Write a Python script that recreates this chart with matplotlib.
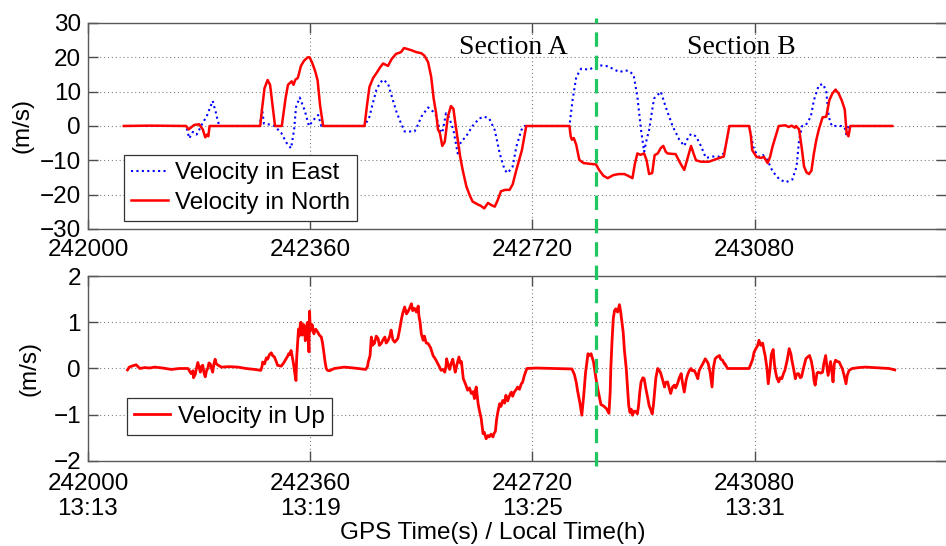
import numpy as np
import matplotlib
matplotlib.use("Agg")
from matplotlib import pyplot as plt
from matplotlib.lines import Line2D
import matplotlib.transforms as mtransforms

plt.rcParams['font.family'] = ['Liberation Sans', 'DejaVu Sans']

# GPS seconds of week, velocities
t_north = [242058, 242100, 242159, 242163, 242172, 242180, 242186, 242190, 242193, 242195, 242197,
           242279, 242282, 242286, 242291, 242295, 242299, 242303, 242314, 242320, 242324, 242330,
           242333, 242336, 242340, 242345, 242350, 242356, 242359, 242363, 242368, 242372, 242376,
           242381, 242448, 242452, 242456, 242462, 242467, 242473, 242478, 242486, 242492, 242499,
           242507, 242512, 242516, 242525, 242532, 242540, 242545, 242551, 242556, 242560, 242564,
           242567, 242570, 242574, 242578, 242583, 242588, 242592, 242595, 242599, 242603, 242607,
           242613, 242618, 242623, 242628, 242632, 242636, 242642, 242648, 242653, 242659, 242664,
           242669, 242676, 242683, 242688, 242694, 242703, 242707, 242710, 242780, 242782, 242784,
           242787, 242791, 242796, 242803, 242812, 242823, 242828, 242835, 242842, 242846, 242851,
           242860, 242869, 242875, 242882, 242886, 242890, 242895, 242901, 242905, 242909, 242914,
           242918, 242923, 242928, 242932, 242936, 242939, 242952, 242960, 242966, 242972, 242977,
           242981, 242985, 242993, 243006, 243015, 243023, 243030, 243035, 243039, 243071, 243074,
           243076, 243083, 243090, 243095, 243101, 243105, 243109, 243114, 243119, 243130, 243135,
           243140, 243145, 243147, 243152, 243156, 243160, 243164, 243168, 243172, 243176, 243180,
           243184, 243190, 243196, 243201, 243206, 243211, 243216, 243221, 243226, 243229, 243232,
           243235, 243303]
v_north = [0, 0.1, 0, -1.0, 0.3, 0.5, -1, -3.3, -2.5, -3, 0,
           0, 5, 11, 13.4, 12, 6, 0, 0, 8, 12, 13,
           12, 13.5, 14, 17.5, 19, 20, 20, 18.5, 16, 13.3, 6,
           0, 0, 6, 11.4, 14, 15.3, 17, 18.2, 17.5, 19.5, 21,
           21.5, 22.7, 22.5, 22, 21.5, 21.2, 20.5, 18.6, 14.3, 8, 3.7,
           -1, -2, -5.8, -4.6, 2.7, 5.8, 5.0, 1, -4, -9, -12.8,
           -17.6, -20, -22, -22.5, -22.9, -23.2, -24, -22.4, -23, -23.5, -21.5,
           -19, -18.6, -18.6, -17, -12.8, -7, -3, 0, 0, -3, -4,
           -3.5, -5.5, -9.9, -10.8, -11, -11.2, -12.8, -14.5, -15.2, -14.8, -14.3,
           -14, -14, -14.5, -15.2, -11, -8, -8.4, -8, -10, -14, -13.7,
           -8.5, -8, -6.4, -5.8, -7.5, -8, -8.2, -11, -12.8, -9, -5.8,
           -8, -10, -10.4, -10.4, -9.8, -9.3, -8.9, -4, 0, 0, -3,
           -7, -9, -9.3, -9, -10.8, -9, -6, -3, 0, 0.2, -0.3,
           0.1, -0.5, 0, -1, -6, -11.8, -13.5, -14, -13, -8, -4,
           -1, 2.5, 2.7, 7.5, 9.5, 10.6, 9.5, 7.5, 4.8, -2, -3,
           0, 0]

t_east = [242058, 242159, 242164, 242170, 242176, 242180, 242183, 242192, 242202, 242207, 242210,
          242213, 242278, 242280, 242282, 242285, 242292, 242302, 242313, 242322, 242329, 242334,
          242337, 242343, 242351, 242358, 242365, 242373, 242378, 242448, 242456, 242462, 242467,
          242473, 242478, 242486, 242494, 242500, 242505, 242513, 242529, 242535, 242540, 242551,
          242559, 242564, 242570, 242574, 242580, 242585, 242592, 242599, 242604, 242612, 242623,
          242634, 242642, 242650, 242659, 242667, 242675, 242680, 242688, 242694, 242702, 242707,
          242780, 242785, 242791, 242799, 242812, 242820, 242828, 242842, 242852, 242861, 242870,
          242877, 242884, 242890, 242896, 242901, 242905, 242909, 242917, 242928, 242936, 242947,
          242958, 242966, 242972, 242977, 242985, 242993, 243001, 243012, 243023, 243030, 243035,
          243039, 243071, 243079, 243087, 243093, 243101, 243109, 243120, 243130, 243141, 243148,
          243152, 243157, 243163, 243171, 243176, 243184, 243191, 243196, 243200, 243205, 243220,
          243226, 243229, 243232, 243303]
v_east = [0, 0, -3.6, -1.7, -2.5, -1.2, 0, 2.7, 7.3, 4, 1.7,
          0, 0, 2, 5.1, 0.7, 0.5, 0, -2, -5, -6.5, -1,
          5.5, 8.3, 4.6, 0, 1.7, 3.2, 0, 0, 2.7, 7, 10.4,
          12.5, 13.5, 12.4, 7.5, 4, 1.7, -1.6, -1.6, 0.5, 2.7, 5.4,
          4.2, 3, -1.2, -2, 3.7, 2.5, -1.2, -8, -4.6, -3.2, 0,
          2.2, 2.7, 2.2, -1.2, -8, -12.8, -13.7, -11.8, -6, -1.2, 0,
          0, 7.5, 14.3, 16.7, 16.4, 17.2, 17.7, 17.4, 16.5, 15.7, 16.2,
          16, 14.8, 8.5, -1.2, -7.5, -4, -1.2, 8, 10, 5.5, 0,
          -4, -5.8, -3.5, -2.3, -3, -5.8, -9.3, -8.9, -8.9, -8, -4,
          0, 0, -7, -9, -8.4, -10, -13.2, -15.5, -16.4, -15.6, -11.8,
          -4, 0, 0.3, 2.7, 7.5, 11.9, 12.2, 10, 2.7, 0, 0,
          -0.5, -2.9, 0, 0]

t_up = [242064, 242067, 242073, 242078, 242084, 242092, 242100, 242108, 242121, 242135, 242148,
        242162, 242167, 242170, 242171, 242174, 242175, 242178, 242180, 242182, 242184, 242186,
        242188, 242190, 242192, 242194, 242196, 242198, 242201, 242202, 242204, 242206, 242208,
        242210, 242216, 242229, 242243, 242256, 242270, 242280, 242282, 242283, 242286, 242289,
        242291, 242294, 242297, 242299, 242302, 242305, 242307, 242313, 242317, 242321, 242324,
        242325, 242327, 242329, 242331, 242333, 242335, 242337, 242338, 242340, 242341, 242342,
        242344, 242345, 242347, 242348, 242349, 242351, 242352, 242353, 242355, 242356, 242358,
        242359, 242360, 242361, 242363, 242364, 242366, 242367, 242369, 242372, 242375, 242378,
        242380, 242382, 242384, 242386, 242388, 242391, 242399, 242415, 242431, 242450, 242453,
        242454, 242457, 242459, 242461, 242463, 242464, 242467, 242470, 242472, 242475, 242478,
        242481, 242483, 242486, 242489, 242491, 242494, 242497, 242499, 242502, 242505, 242508,
        242510, 242513, 242516, 242518, 242521, 242524, 242526, 242529, 242532, 242535, 242536,
        242538, 242540, 242543, 242545, 242548, 242551, 242555, 242559, 242563, 242567, 242570,
        242572, 242575, 242578, 242580, 242581, 242584, 242586, 242588, 242591, 242593, 242595,
        242598, 242601, 242603, 242605, 242608, 242612, 242615, 242618, 242621, 242624, 242626,
        242628, 242629, 242632, 242634, 242637, 242639, 242640, 242642, 242645, 242648, 242650,
        242653, 242656, 242658, 242660, 242662, 242664, 242667, 242669, 242672, 242675, 242677,
        242680, 242682, 242684, 242686, 242688, 242691, 242694, 242696, 242699, 242702, 242704,
        242707, 242711, 242726, 242753, 242784, 242788, 242791, 242793, 242797, 242800, 242803,
        242806, 242810, 242812, 242815, 242819, 242823, 242826, 242828, 242831, 242834, 242837,
        242840, 242844, 242846, 242847, 242849, 242851, 242853, 242855, 242858, 242861, 242863,
        242867, 242869, 242872, 242874, 242876, 242878, 242880, 242882, 242885, 242888, 242890,
        242892, 242894, 242896, 242899, 242901, 242904, 242907, 242909, 242912, 242914, 242916,
        242918, 242920, 242923, 242926, 242928, 242931, 242934, 242936, 242939, 242942, 242944,
        242947, 242950, 242952, 242955, 242958, 242961, 242963, 242966, 242969, 242971, 242974,
        242977, 242979, 242982, 242985, 242988, 242990, 242993, 242996, 243000, 243003, 243005,
        243008, 243011, 243013, 243016, 243019, 243023, 243025, 243028, 243031, 243032, 243036,
        243050, 243071, 243074, 243077, 243079, 243082, 243085, 243087, 243090, 243093, 243095,
        243097, 243100, 243102, 243105, 243107, 243110, 243112, 243114, 243116, 243119, 243121,
        243124, 243127, 243129, 243133, 243136, 243139, 243140, 243143, 243146, 243148, 243151,
        243154, 243156, 243159, 243163, 243166, 243169, 243172, 243175, 243176, 243178, 243181,
        243183, 243187, 243190, 243192, 243195, 243197, 243199, 243201, 243203, 243205, 243207,
        243209, 243211, 243214, 243217, 243219, 243222, 243225, 243228, 243230, 243233, 243238,
        243249, 243260, 243273, 243287, 243298, 243307]
v_up = [-0.03, 0.03, 0.06, 0.08, 0.0, 0.02, 0.01, 0.03, 0.01, -0.02, 0.0,
        0.0, -0.11, -0.05, -0.2, -0.12, -0.04, 0.13, 0.02, -0.08, 0.05, 0.07,
        -0.1, -0.18, -0.05, 0.0, 0.12, 0.1, -0.04, -0.08, 0.1, 0.2, 0.1,
        0.08, 0.03, 0.04, 0.03, 0.0, -0.02, -0.04, 0.05, 0.14, 0.1, 0.23,
        0.2, 0.3, 0.34, 0.28, 0.25, 0.15, 0.07, 0.05, 0.12, 0.21, 0.28,
        0.32, 0.3, 0.39, 0.25, 0.1, -0.1, -0.26, 0.2, 0.65, 0.85, 0.7,
        0.95, 1.0, 0.72, 0.75, 0.95, 0.9, 0.6, 0.65, 0.98, 1.0, 0.36,
        1.24, 0.85, 0.82, 0.95, 0.9, 0.75, 0.8, 0.85, 0.79, 0.72, 0.68,
        0.55, 0.36, 0.15, 0.0, -0.04, -0.05, 0.0, 0.03, 0.01, -0.02, 0.05,
        0.14, 0.28, 0.68, 0.5, 0.58, 0.54, 0.7, 0.65, 0.5, 0.54, 0.62,
        0.68, 0.55, 0.6, 0.7, 0.83, 0.62, 0.57, 0.6, 0.65, 0.85, 1.08,
        1.2, 1.33, 1.18, 1.22, 1.3, 1.4, 1.25, 1.3, 1.22, 1.35, 1.15,
        1.0, 0.75, 0.61, 0.7, 0.55, 0.54, 0.45, 0.28, 0.2, 0.1, 0.02,
        -0.04, -0.02, -0.08, 0.05, 0.21, 0.05, -0.02, 0.1, 0.2, 0.05, -0.08,
        0.1, 0.25, 0.12, 0.15, -0.22, -0.35, -0.47, -0.42, -0.54, -0.5, -0.65,
        -0.45, -0.4, -0.76, -0.9, -1.08, -1.3, -1.41, -1.38, -1.52, -1.45, -1.48,
        -1.42, -1.48, -1.4, -1.36, -1.1, -0.94, -0.76, -0.82, -0.69, -0.75, -0.58,
        -0.7, -0.62, -0.55, -0.51, -0.6, -0.5, -0.45, -0.4, -0.45, -0.33, -0.3,
        -0.15, 0.0, 0.01, 0.0, -0.01, -0.13, -0.3, -0.47, -0.75, -1.01, -0.6,
        -0.1, 0.32, 0.28, 0.32, 0.14, -0.22, -0.45, -0.58, -0.78, -0.8, -0.83,
        -0.87, -0.97, -0.5, 0.0, 0.6, 1.08, 1.25, 1.29, 1.22, 1.38, 1.22,
        0.79, 0.4, 0.0, -0.4, -0.8, -0.95, -0.88, -1.01, -0.92, -0.94, -0.98,
        -0.8, -0.5, -0.29, -0.2, -0.22, -0.45, -0.65, -0.8, -0.9, -0.98, -0.8,
        -0.5, -0.2, 0.0, -0.05, -0.11, -0.25, -0.4, -0.3, -0.29, -0.45, -0.54,
        -0.4, -0.36, -0.42, -0.33, -0.2, -0.11, -0.3, -0.51, -0.25, -0.15, -0.05,
        0.0, -0.05, -0.04, -0.12, -0.22, -0.05, 0.03, 0.1, 0.21, 0.15, 0.1,
        -0.1, -0.4, 0.0, 0.21, 0.25, 0.28, 0.2, 0.18, 0.1, 0.1, 0.0,
        0.0, 0.0, 0.1, 0.21, 0.35, 0.43, 0.5, 0.61, 0.5, 0.55, 0.4,
        0.28, 0.0, -0.33, 0.0, 0.3, 0.41, 0.1, -0.08, -0.2, -0.29, -0.2,
        -0.22, -0.1, -0.04, 0.2, 0.43, 0.3, 0.2, 0.0, -0.22, -0.12, -0.11,
        -0.2, -0.18, 0.0, 0.21, 0.25, 0.28, 0.15, -0.08, -0.25, -0.36, -0.1,
        -0.08, -0.1, -0.08, 0.1, 0.28, 0.05, -0.15, 0.0, 0.15, -0.05, -0.29,
        0.1, 0.18, 0.15, 0.14, 0.08, 0.0, -0.15, -0.33, -0.15, -0.04, 0.0,
        0.02, 0.03, 0.02, 0.01, 0.0, -0.03]

gps_ticks = [242000, 242360, 242720, 243080]
local_ticks = ['13:13', '13:19', '13:25', '13:31']
t_split = 242823

fs = 17.5
fig = plt.figure(figsize=(9.46, 5.46), dpi=100)
ax1 = fig.add_axes([0.093, 0.5806, 0.907, 0.3773])
ax2 = fig.add_axes([0.093, 0.1557, 0.907, 0.3388])

ax1.plot(t_east, v_east, color='b', linestyle=(0, (1, 1.6)), lw=1.5, label='Velocity in East')
ax1.plot(t_north, v_north, color='r', lw=1.8, label='Velocity in North')
ax2.plot(t_up, v_up, color='r', lw=2.0, label='Velocity in Up')

for ax in (ax1, ax2):
    ax.set_xlim(242000, 243390)
    ax.set_xticks(gps_ticks)
    ax.grid(True, linestyle=(0, (1, 2.5)), color='0.5', lw=0.8)
    ax.tick_params(direction='in', top=True, right=True, length=7, width=1,
                   color='0.3', labelsize=fs, pad=5)
    for s in ax.spines.values():
        s.set_color('0.35')
        s.set_linewidth(1.0)
    ax.spines['right'].set_visible(False)
    ax.set_ylabel('(m/s)', fontsize=fs)

ax1.set_ylim(-30, 30)
ax1.set_yticks([-30, -20, -10, 0, 10, 20, 30])
ax1.set_xticklabels([str(t) for t in gps_ticks])
ax1.tick_params(axis='x', pad=7)
ax1.yaxis.set_label_coords(-0.064, 0.5)

ax2.set_ylim(-2, 2)
ax2.set_yticks([-2, -1, 0, 1, 2])
ax2.set_xticklabels([f'{t}\n{h}' for t, h in zip(gps_ticks, local_ticks)], linespacing=1.12)
ax2.tick_params(axis='x', pad=9)
ax2.yaxis.set_label_coords(-0.055, 0.5)

legkw = dict(loc='lower left', fontsize=fs, fancybox=False, framealpha=1,
             edgecolor='0.2', borderpad=0.3, handlelength=1.5,
             handletextpad=0.3, borderaxespad=0)
l1 = ax1.legend(bbox_to_anchor=(0.042, 0.039), labelspacing=0.3, **legkw)
l2 = ax2.legend(bbox_to_anchor=(0.045, 0.14), labelspacing=0.1, **legkw)
for lg in (l1, l2):
    lg.get_frame().set_linewidth(0.9)

ax1.text(242689, 23, 'Section A', family='Liberation Serif', fontsize=20, ha='center', va='center')
ax1.text(243058, 23, 'Section B', family='Liberation Serif', fontsize=20, ha='center', va='center')

trans = mtransforms.blended_transform_factory(ax1.transData, fig.transFigure)
fig.add_artist(Line2D([t_split, t_split], [1 - 466 / 546, 1 - 18 / 546], transform=trans,
                      color='#1fc760', lw=2.3, linestyle=(0, (4.5, 2.8))))

fig.text(493 / 946, 1 - 533 / 546, 'GPS Time(s) / Local Time(h)', fontsize=fs, ha='center', va='center')

fig.savefig('out.png', dpi=100)
